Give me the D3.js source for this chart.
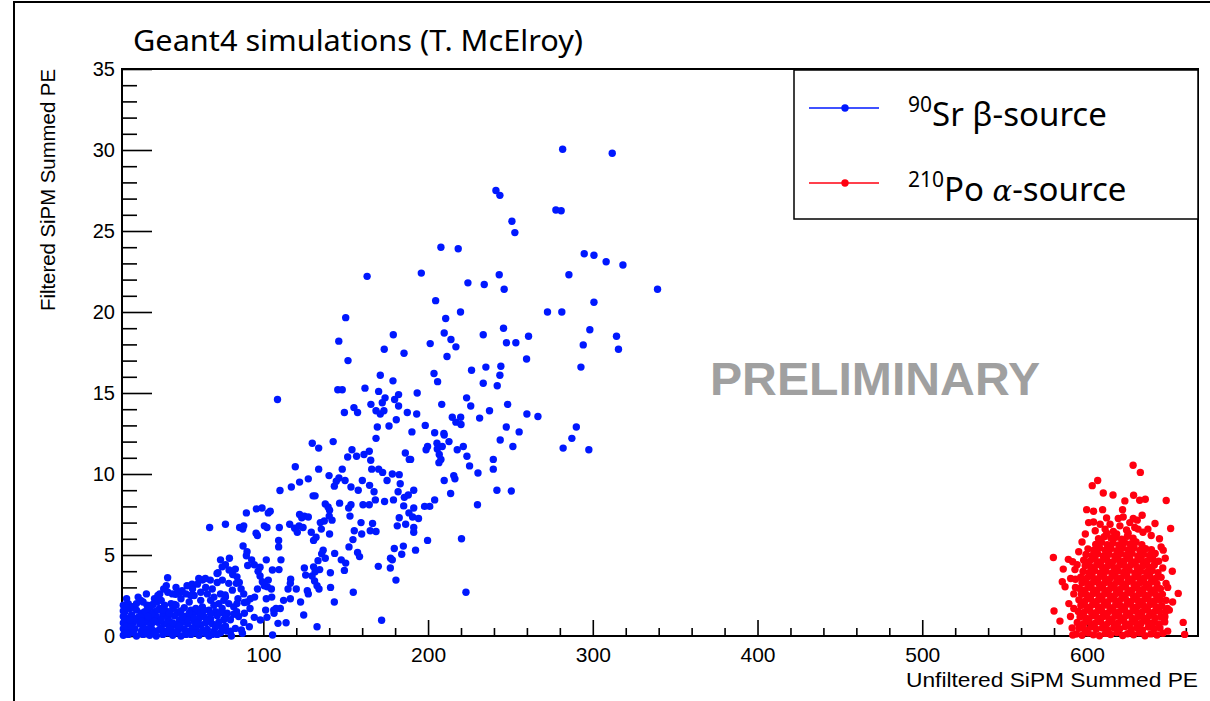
<!DOCTYPE html>
<html>
<head>
<meta charset="utf-8">
<script src="https://cdn.jsdelivr.net/npm/d3@7"></script>
<style>
  body { margin: 0; background: #fff; }
  svg { display: block; }
</style>
</head>
<body>
<div id="chart"></div>
<script>
// Sr-90 beta source points, sparse part [unfiltered PE, filtered PE]
var betaSparse = [
  [281.7,30.05],[311.8,29.8],[241.2,27.5],[243.6,27.2],[277.6,26.3],[280.8,26.25],[250.9,25.6],[252.7,24.9],
  [207.8,24.0],[218.3,23.9],[294.8,23.6],[300.7,23.5],[308.1,23.1],[318.3,22.9],[195.9,22.4],[285.5,22.3],
  [243.2,22.3],[224.2,21.8],[234.1,21.7],[246.2,21.4],[339.3,21.4],[204.6,20.7],[219.7,20.0],[210.7,19.6],
  [272.5,20.0],[281.2,20.0],[300.7,20.6],[178.9,18.6],[209.8,18.7],[213.9,18.3],[216.9,17.85],[233.5,18.6],
  [245.8,19.0],[247.6,18.1],[253.3,18.1],[261.0,18.5],[298.2,18.9],[294.2,17.97],[314.4,18.5],[315.6,17.7],
  [173.4,17.7],[185.4,17.45],[201.3,18.05],[211.5,17.25],[259.8,17.1],[292.8,16.6],[203.6,16.2],[226.4,16.4],
  [235.1,16.6],[244.2,16.65],[243.6,16.1],[171,16.1],[297.6,11.5],
  [163.0,22.2],[150.0,19.65],[145.8,18.2],[151.4,17.0],
  [145.2,15.2],[147.9,15.2],[161.7,15.3],[170.0,15.1],[178.7,15.75],[205.8,15.7],[233.5,15.6],[242.0,15.45],
  [193.4,15.0],[173.9,14.7],[172.2,14.4],[165.3,14.3],[179.7,14.6],[182.1,14.9],[182.1,14.2],[168.4,13.9],
  [171.0,13.7],[173.2,13.9],[155.0,14.1],[157.2,13.8],[149.2,13.8],[187.4,13.8],[193.1,13.7],[180.7,13.35],
  [176.3,12.96],[169.2,12.9],[168.4,12.2],[190.2,12.6],[198.3,13.0],[208.3,14.3],[214.7,13.5],[216.9,13.2],
  [219.8,13.5],[220.0,13.06],[223.4,14.7],[225.9,14.2],[231.3,13.45],[237.3,13.9],[248.3,14.3],[260.0,13.7],
  [266.7,13.55],[247.5,12.9],[255.3,12.6],[243.8,12.1],[251.5,11.7],[282.0,11.6],[287.3,12.2],[290.0,12.9],
  [204.0,12.55],[209.6,12.5],[212.7,12.0],[209.8,12.4],[205.4,11.9],[205.6,11.55],[198.8,11.5],[199.7,11.7],
  [208.6,11.7],[206.8,11.2],[207.8,10.9],[206.6,10.7],[217.7,11.5],[221.4,11.7],[223.6,11.1],[225.2,10.5],
  [230.3,10.06],[239.6,10.9],[239.6,10.3],[215.6,9.9],[216.3,9.7],[209.8,9.6],[213.7,8.8],[241.8,9.0],
  [250.5,8.95],[230,8.1],[186.2,11.3],[189.4,10.9],[188.6,10.9],[164.3,11.4],[165.2,10.85],[161.1,11.2],
  [156.6,11.1],[153.8,11.5],[151.2,11.05],[147.9,10.3],[145.9,9.75],[149.6,9.6],[144.3,9.55],[143.1,9.25],
  [153.2,9.2],[157.6,9.0],[160.1,9.6],[160.5,8.1],[164.3,8.1],[164.5,9.3],[167.2,8.9],[165.8,10.3],
  [170,10.3],[172.4,10.1],[175.1,9.6],[178.3,10.0],[182.5,9.96],[183.1,9.4],[188,8.7],[185.6,8.56],
  [191.3,9.0],[181.8,8.9],[179.0,8.4],[173.6,8.3],[197.9,8.0],[201,8.0],[204,8.4],[185.2,8.03],
  [191.3,7.9],[188.4,7.6],[190.6,7.35],[194.2,7.25],[191.3,6.7],[191.3,6.4],[182.5,7.3],[181.3,6.8],
  [186.4,6.9],[146.3,8.2],[151.8,7.9],[153.2,8.1],[168,8.4],[141.7,7.15],[152.6,7.4],[159.3,7.0],
  [159.7,6.3],[155.2,6.5],[164.9,6.5],[168.4,6.45],[166.3,6.95],[154.4,5.95],[152,5.5],[143.3,5.1],
  [147.3,4.7],[150,4.5],[149.2,4.05],[157.2,5.15],[158.4,4.9],[179.5,5.4],[185,5.55],[184,5.05],
  [192.4,5.3],[177.2,4.8],[178.3,4.7],[177.1,4.2],[169.8,4.3],[180.5,3.45],[199.7,5.9],[220.3,6.0],
  [223,2.7],[171.8,0.97],[154.6,2.7],[143.1,2.1],[140.8,3.0],[142.4,12.0],[140.7,3.9],
  [108.6,14.6],[129.7,11.9],[133.6,11.6],[119.4,10.45],[133.6,10.3],[139.9,9.9],[110.1,8.98],[117,9.2],
  [122,9.5],[127.3,9.7],[130.2,8.65],[131.4,8.65],[137.6,8.15],[139.3,7.97],[140.2,7.76],[89.7,7.6],
  [95.8,7.85],[99.2,7.9],[104.2,7.7],[103,7.6],[67.4,6.7],[77,6.9],[88.1,6.8],[87.5,6.6],
  [100.6,6.8],[102.2,6.7],[95.6,6.35],[96.4,6.2],[109.7,6.7],[116,6.9],[119,6.65],[121.7,6.8],
  [124.1,6.7],[120.6,6.4],[122,7.5],[123.3,7.3],[124.9,7.4],[127.3,7.35],[140,7.4],[137,7.1],
  [135.2,6.6],[132,6.1],[130.5,5.9],[129.1,6.4],[134.6,7.0],[140.2,6.3],[136.3,5.3],[135.4,5.07],
  [137.6,4.8],[133.2,4.65],[130.5,4.27],[134.2,4.1],[129.6,3.7],[131.1,3.4],[132.6,3.1],[133.8,2.9],
  [131.4,3.96],[125.7,3.76],[124.9,4.2],[127.3,2.6],[126.7,2.8],[122.6,2.1],[112.3,2.2],[116.4,2.3],
  [116.4,3.25],[116.6,3.5],[115,2.9],[110.3,1.7],[107.7,1.7],[106.3,1.6],[106.5,1.4],[108.9,0.78],
  [113.8,0.82],[105.6,0.06],[124.5,1.3],[132.6,0.57],[109.3,5.9],[109.3,5.5],[110.7,4.7],[101.8,4.7],
  [103,3.45],[100.6,3.1],[102.4,3.04],[105.5,4.07],[109.5,4.1],[105.1,2.4],[104.9,2.9],[101.8,2.3],
  [101.4,1.6],[102.2,1.15],[99.4,3.35],[96.4,2.9],[94.7,2.4],[92.1,2.3],[90.1,2.1],[91.9,1.7],
  [94.5,1.15],[91.5,0.57],[86.7,0.37],[80.6,0],[87.3,0.17],[98.2,0.99],[85.6,6.7],[87.7,5.56],
  [90.1,5.2],[89.7,4.95],[92.9,4.7],[90.5,4.35],[96.8,4.0],[98,4.25],[94.5,4.4],[98,3.7],
  [79.4,4.8],[77,4.4],[74,4.7],[75,4.27],[79.2,4.07],[83,4.13],[84,3.65],[81.4,3.8],
  [81.2,2.83],[75.1,3.45],[79,3.25],[72.5,3.9],[76.8,2.53],[83.6,3.25],[85.4,3.3],[86.5,2.9],
  [88.1,2.6],[84.6,2.3],[84,2.0],[88.5,2.07],[88.5,1.4],[82,1.34],[83.8,1.5],[80,1.0],
  [88.1,0.84],[83,0.47],[120,2.9]
];

// Sr-90 dense low-PE cluster
var betaCluster = [
  [41.9,3.6],[25.6,2.2],[60.8,3.55],[63,3.45],[64.8,3.55],[67.8,3.45],[71.9,3.86],[56.7,3.2],
  [53.7,3.1],[50.7,2.8],[49.6,2.7],[46.8,2.57],[44.8,2.6],[41.1,3.1],[39.5,2.9],[37.1,2.6],
  [33.9,2.3],[31.4,1.8],[29.4,1.9],[35.5,2.1],
  [15,1.9],[18,2.0],[21,1.8],[27,2.1],[33,1.95],[38,2.2],[44,2.0],[50,2.3],[55,2.1],[58,2.5],
  [62,2.2],[66,2.6],[70,2.4],[73,2.0],
  [16,1.5],[19,1.7],[23,1.6],[26,1.4],[30,1.65],[34,1.5],[37,1.7],[41,1.55],[45,1.7],[48,1.45],
  [52,1.75],[56,1.6],[60,1.5],[63,1.8],[67,1.6],[71,1.5],[75,1.7],[78,1.4],
  [15,1.2],[17,1.1],[20,1.3],[24,1.15],[28,1.25],[31,1.05],[35,1.2],[39,1.3],[42,1.1],[46,1.25],
  [49,1.0],[53,1.2],[57,1.3],[61,1.1],[64,1.2],[68,1.05],[72,1.25],[76,1.0],
  [15,0.8],[18,0.7],[21,0.85],[25,0.75],[29,0.9],[32,0.7],[36,0.85],[40,0.75],[43,0.9],[47,0.7],
  [51,0.85],[54,0.75],[58,0.9],[62,0.7],[65,0.8],[69,0.75],[73,0.85],[77,0.6],
  [16,0.4],[19,0.35],[22,0.45],[26,0.3],[30,0.45],[33,0.35],[37,0.4],[41,0.3],[44,0.45],[48,0.35],
  [52,0.4],[55,0.3],[59,0.45],[63,0.35],[66,0.4],[70,0.3],[74,0.2],[78,0.3],
  [15,0.05],[18,0.1],[23,0.0],[27,0.1],[31,0.05],[35,0.0],[39,0.1],[45,0.05],[50,0.0],[56,0.1],
  [61,0.05],[67,0.0],[72,0.1],
  [17,2.3],[24,2.4],[29,2.6],[36,2.5],[42,2.7],[47,3.0],[53,2.6],[57,2.9],[60,3.2],[65,3.0],
  [69,2.9],[72,3.3],[76,2.2],[79,2.0],[82,1.8],[85,1.2],[80,0.3],
  [15,1.55],[15,0.45],[16,1.0],[16,0.2],[17,1.75],[17,0.6],
  [20,0.6],[22,1.0],[27,0.55],[28,1.5],[32,1.35],[34,0.15],[38,1.0],[40,1.9],[43,0.55],[46,1.95],
  [50,1.55],[54,1.0],[57,0.5],[59,1.7],[62,1.45],[65,0.15],[68,1.35],[71,0.55],[74,1.45],[77,2.4],
  [19,1.0],[21,0.2],[23,2.0],[25,1.2],[26,0.9],[29,0.2],[30,1.2],[32,1.9],[34,0.9],[36,1.6],
  [38,0.5],[39,1.6],[42,0.2],[43,1.4],[45,0.8],[47,1.9],[49,0.6],[51,1.2],[53,0.1],[55,1.4],
  [56,2.5],[58,1.1],[60,0.8],[62,2.7],[64,1.6],[66,1.0],[68,2.2],[70,1.9],[72,0.7],[75,0.5],
  [77,1.2],[74,2.6],[69,0.1],[58,0.2],[47,0.2]
];

// Po-210 alpha source, dense core
var alphaCore = [
  [593.5,0.12],[597,0.04],[600.8,0.18],[603.9,0.07],[607.6,0.02],[611.2,0.16],[614.4,0.09],[618.1,0.21],
  [621.7,0.03],[624.6,0.14],[628.3,0.08],[631.9,0.19],[635.2,0.02],[638.8,0.13],[642.5,0.06],[646.1,0.17],
  [595.2,0.48],[598.6,0.39],[602.3,0.55],[605.7,0.42],[609.4,0.5],[612.8,0.36],[616.3,0.53],[619.9,0.44],
  [623.1,0.58],[626.8,0.4],[630.2,0.51],[633.7,0.37],[637.4,0.56],[640.6,0.43],[644.3,0.49],
  [594.1,0.83],[597.9,0.76],[601.2,0.9],[604.8,0.78],[608.3,0.86],[611.9,0.72],[615.2,0.88],[618.7,0.79],
  [622.4,0.92],[625.9,0.74],[629.3,0.85],[632.8,0.77],[636.5,0.9],[639.8,0.81],[643.4,0.75],[647.2,0.87],
  [595.8,1.18],[599.3,1.1],[602.9,1.24],[606.4,1.12],[609.8,1.2],[613.3,1.06],[616.9,1.22],[620.3,1.14],
  [623.8,1.27],[627.4,1.09],[630.8,1.19],[634.2,1.13],[637.9,1.25],[641.3,1.11],[644.9,1.17],
  [594.7,1.52],[598.2,1.46],[601.7,1.58],[605.3,1.44],[608.9,1.55],[612.4,1.41],[615.8,1.57],[619.4,1.48],
  [622.9,1.61],[626.3,1.43],[629.8,1.54],[633.4,1.47],[636.8,1.6],[640.4,1.45],[643.9,1.53],[647.6,1.49],
  [596.3,1.88],[599.8,1.8],[603.4,1.93],[606.9,1.79],[610.3,1.9],[613.8,1.77],[617.4,1.92],[620.8,1.83],
  [624.3,1.96],[627.9,1.78],[631.3,1.89],[634.8,1.82],[638.3,1.94],[641.8,1.81],[645.4,1.87],
  [595.1,2.23],[598.7,2.15],[602.2,2.28],[605.8,2.14],[609.2,2.25],[612.7,2.12],[616.3,2.27],[619.7,2.18],
  [623.3,2.31],[626.7,2.13],[630.3,2.24],[633.8,2.17],[637.2,2.29],[640.8,2.16],[644.2,2.22],
  [596.6,2.58],[600.1,2.5],[603.7,2.63],[607.2,2.49],[610.7,2.6],[614.2,2.47],[617.7,2.62],[621.2,2.53],
  [624.7,2.66],[628.2,2.48],[631.7,2.59],[635.2,2.52],[638.7,2.64],[642.2,2.51],[645.8,2.57],
  [595.5,2.93],[599.0,2.85],[602.6,2.98],[606.1,2.84],[609.6,2.95],[613.1,2.82],[616.6,2.97],[620.1,2.88],
  [623.6,3.01],[627.1,2.83],[630.6,2.94],[634.1,2.87],[637.6,2.99],[641.1,2.86],[644.6,2.92],
  [597.0,3.28],[600.5,3.2],[604.0,3.33],[607.5,3.19],[611.0,3.3],[614.5,3.17],[618.0,3.32],[621.5,3.23],
  [625.0,3.36],[628.5,3.18],[632.0,3.29],[635.5,3.22],[639.0,3.34],[642.5,3.21],
  [596.2,3.63],[599.7,3.55],[603.2,3.68],[606.7,3.54],[610.2,3.65],[613.7,3.52],[617.2,3.67],[620.7,3.58],
  [624.2,3.71],[627.7,3.53],[631.2,3.64],[634.7,3.57],[638.2,3.69],[641.7,3.56],[645.0,3.62],
  [597.6,3.98],[601.1,3.9],[604.6,4.03],[608.1,3.89],[611.6,4.0],[615.1,3.87],[618.6,4.02],[622.1,3.93],
  [625.6,4.06],[629.1,3.88],[632.6,3.99],[636.1,3.92],[639.6,4.04],[643.1,3.91],
  [598.9,4.33],[602.4,4.25],[605.9,4.38],[609.4,4.24],[612.9,4.35],[616.4,4.22],[619.9,4.37],[623.4,4.28],
  [626.9,4.41],[630.4,4.23],[633.9,4.34],[637.4,4.27],[640.9,4.39],
  [598.0,4.68],[601.5,4.6],[605.0,4.73],[608.5,4.59],[612.0,4.7],[615.5,4.57],[619.0,4.72],[622.5,4.63],
  [626.0,4.76],[629.5,4.58],[633.0,4.69],[636.5,4.62],[640.0,4.74],[643.5,4.61],
  [599.4,5.03],[602.9,4.95],[606.4,5.08],[609.9,4.94],[613.4,5.05],[616.9,4.92],[620.4,5.07],[623.9,4.98],
  [627.4,5.11],[630.9,4.93],[634.4,5.04],[637.9,4.97],[641.4,5.09],
  [600.6,5.38],[604.1,5.3],[607.6,5.43],[611.1,5.29],[614.6,5.4],[618.1,5.27],[621.6,5.42],[625.1,5.33],
  [628.6,5.46],[632.1,5.28],[635.6,5.39],[639.1,5.32],
  [605.3,5.65],[608.8,5.78],[612.3,5.64],[615.8,5.75],[619.3,5.62],[622.8,5.77],[626.3,5.68],
  [629.8,5.81],[633.3,5.63],
  [607.0,6.0],[610.5,6.13],[617.5,6.1],[621.0,5.97],[628.0,6.03]
];

// Po-210 alpha source, edges and outliers
var alphaTail = [
  [628,10.54],[632.4,10.1],[606.5,9.6],[603.2,9.28],[609.9,8.83],[615.8,8.7],[628.3,8.69],[632,8.38],
  [635.4,8.44],[648.1,8.36],[623,8.34],[599.8,7.8],[604,7.7],[609.5,7.8],[621.6,7.8],[633.5,7.45],
  [604,7.04],[611.9,7.29],[619,7.25],[628.1,7.25],[630.5,7.15],[641.3,6.94],[650.8,6.64],
  [605,6.5],[611,6.6],[616,6.45],[620,6.8],[624,6.55],[629,6.7],[634,6.4],[599,6.3],[639,6.2],
  [601,7.0],[614,6.9],[626,7.0],[637,6.6],[612,6.35],[618,6.3],[625,6.35],[608,6.9],[622,7.35],
  [631,6.6],[614.5,6.05],[624.5,6.15],
  [579.6,4.85],[588.7,4.73],[591.3,4.58],[585.6,4.13],[592.7,4.1],[585,3.35],[586.7,3.04],[590.1,3.55],
  [580,1.54],[583.6,0.92],[591.4,0.06],
  [589,2.0],[590,1.2],[592,2.6],[591,0.5],[593,3.5],[594,4.4],[595,5.2],[597,5.8],[592,1.7],[593,3.0],
  [646.3,5.3],[651.8,4.0],[648,3.25],[655.4,2.63],[652,2.1],[648.8,1.7],[647.3,1.19],[658.4,0.84],[659.3,0.1],
  [648,2.2],[649,3.0],[646,4.2],[647,0.9],[650,1.6],[645,5.5],[644,6.0],[647.5,4.8],[649,0.3]
];

var xTicksMajor = [100, 200, 300, 400, 500, 600];
var yTicksMajor = [0, 5, 10, 15, 20, 25, 30, 35];

var width = 1210, height = 701;
var frame = { left: 122, right: 1198, top: 69, bottom: 636 };

var svg = d3.select("#chart").append("svg")
  .attr("width", width)
  .attr("height", height);

svg.append("rect").attr("width", width).attr("height", height).attr("fill", "#fff");

// canvas border (top and left)
svg.append("line").attr("x1", 14).attr("x2", width).attr("y1", 2).attr("y2", 2)
  .attr("stroke", "#000").attr("stroke-width", 2);
svg.append("line").attr("x1", 14).attr("x2", 14).attr("y1", 1).attr("y2", height)
  .attr("stroke", "#000").attr("stroke-width", 2);

var x = d3.scaleLinear().domain([14.2, 667.4]).range([frame.left, frame.right]);
var y = d3.scaleLinear().domain([0, 35]).range([frame.bottom, frame.top]);

var minorX = d3.range(20, 667, 20).filter(function(d) { return d % 100 !== 0; });
var minorY = d3.range(1, 35, 1).filter(function(d) { return d % 5 !== 0; });

// x axis: ticks inside the frame
svg.append("g")
  .attr("transform", "translate(0," + frame.bottom + ")")
  .call(d3.axisBottom(x).tickValues(minorX).tickSize(-8).tickFormat(""))
  .call(function(g) { g.select(".domain").remove(); g.selectAll("line").attr("stroke-width", 1.6); });

svg.append("g")
  .attr("transform", "translate(0," + frame.bottom + ")")
  .call(d3.axisBottom(x).tickValues(xTicksMajor).tickSize(-16).tickPadding(11).tickFormat(d3.format("d")))
  .call(function(g) {
    g.select(".domain").remove();
    g.selectAll("line").attr("stroke-width", 1.6);
    g.selectAll("text").attr("font-family", "Liberation Sans, Arial, sans-serif")
      .attr("font-size", 21).attr("fill", "#000");
  });

// y axis
svg.append("g")
  .attr("transform", "translate(" + frame.left + ",0)")
  .call(d3.axisLeft(y).tickValues(minorY).tickSize(-15).tickFormat(""))
  .call(function(g) { g.select(".domain").remove(); g.selectAll("line").attr("stroke-width", 1.6); });

svg.append("g")
  .attr("transform", "translate(" + frame.left + ",0)")
  .call(d3.axisLeft(y).tickValues(yTicksMajor).tickSize(-30).tickPadding(7).tickFormat(d3.format("d")))
  .call(function(g) {
    g.select(".domain").remove();
    g.selectAll("line").attr("stroke-width", 1.6);
    g.selectAll("text").attr("font-family", "Liberation Sans, Arial, sans-serif")
      .attr("font-size", 20).attr("fill", "#000");
  });

// frame
svg.append("rect")
  .attr("x", frame.left).attr("y", frame.top)
  .attr("width", frame.right - frame.left).attr("height", frame.bottom - frame.top)
  .attr("fill", "none").attr("stroke", "#000").attr("stroke-width", 2);

// axis titles
svg.append("text")
  .attr("x", frame.right).attr("y", 687)
  .attr("text-anchor", "end")
  .attr("font-family", "Liberation Sans, Arial, sans-serif")
  .attr("font-size", 20)
  .attr("textLength", 292).attr("lengthAdjust", "spacingAndGlyphs")
  .text("Unfiltered SiPM Summed PE");

svg.append("text")
  .attr("transform", "translate(55," + frame.top + ") rotate(-90)")
  .attr("text-anchor", "end")
  .attr("font-family", "Liberation Sans, Arial, sans-serif")
  .attr("font-size", 20)
  .attr("textLength", 242).attr("lengthAdjust", "spacingAndGlyphs")
  .text("Filtered SiPM Summed PE");

// title
svg.append("text")
  .attr("x", 133).attr("y", 51)
  .attr("font-family", "Noto Sans, Open Sans, sans-serif")
  .attr("font-size", 29)
  .attr("textLength", 450).attr("lengthAdjust", "spacingAndGlyphs")
  .text("Geant4 simulations (T. McElroy)");

// watermark
svg.append("text")
  .attr("x", 875).attr("y", 395)
  .attr("text-anchor", "middle")
  .attr("font-family", "Liberation Sans, Arial, sans-serif")
  .attr("font-weight", "bold")
  .attr("font-size", 47)
  .attr("fill", "#a0a0a0")
  .attr("textLength", 330).attr("lengthAdjust", "spacingAndGlyphs")
  .text("PRELIMINARY");

// markers
var r = 3.7;
var plot = svg.append("g");

plot.selectAll(".beta")
  .data(betaCluster.concat(betaSparse))
  .enter().append("circle")
  .attr("class", "beta")
  .attr("cx", function(d) { return x(d[0]); })
  .attr("cy", function(d) { return y(d[1]); })
  .attr("r", r)
  .attr("fill", "#0018ff");

plot.selectAll(".alpha")
  .data(alphaCore.concat(alphaTail))
  .enter().append("circle")
  .attr("class", "alpha")
  .attr("cx", function(d) { return x(d[0]); })
  .attr("cy", function(d) { return y(d[1]); })
  .attr("r", r)
  .attr("fill", "#ff0010");

// legend
var legend = svg.append("g");
legend.append("rect")
  .attr("x", 794).attr("y", 70).attr("width", 404).attr("height", 149)
  .attr("fill", "#fff").attr("stroke", "#000").attr("stroke-width", 1.5);

var entries = [
  { color: "#0018ff", sup: "90", name: "Sr ", greek: "β", rest: "-source", italic: false, ly: 108, ty: 126 },
  { color: "#ff0010", sup: "210", name: "Po ", greek: "α", rest: "-source", italic: true, ly: 183, ty: 201 }
];

entries.forEach(function(e) {
  legend.append("line").attr("x1", 809).attr("x2", 879).attr("y1", e.ly).attr("y2", e.ly)
    .attr("stroke", e.color).attr("stroke-width", 1.6);
  legend.append("circle").attr("cx", 845).attr("cy", e.ly).attr("r", r).attr("fill", e.color);
  var t = legend.append("text")
    .attr("x", 908).attr("y", e.ty)
    .attr("font-family", "Noto Sans, Open Sans, sans-serif")
    .attr("font-size", 33);
  t.append("tspan").attr("font-size", 21).attr("dy", -14).text(e.sup);
  t.append("tspan").attr("dy", 14).text(e.name);
  t.append("tspan")
    .attr("font-style", e.italic ? "italic" : "normal")
    .attr("font-family", e.italic ? "DejaVu Serif, serif" : "Noto Sans, Open Sans, sans-serif")
    .attr("font-size", e.italic ? 29 : 33)
    .text(e.greek);
  t.append("tspan").text(e.rest);
});
</script>
</body>
</html>
